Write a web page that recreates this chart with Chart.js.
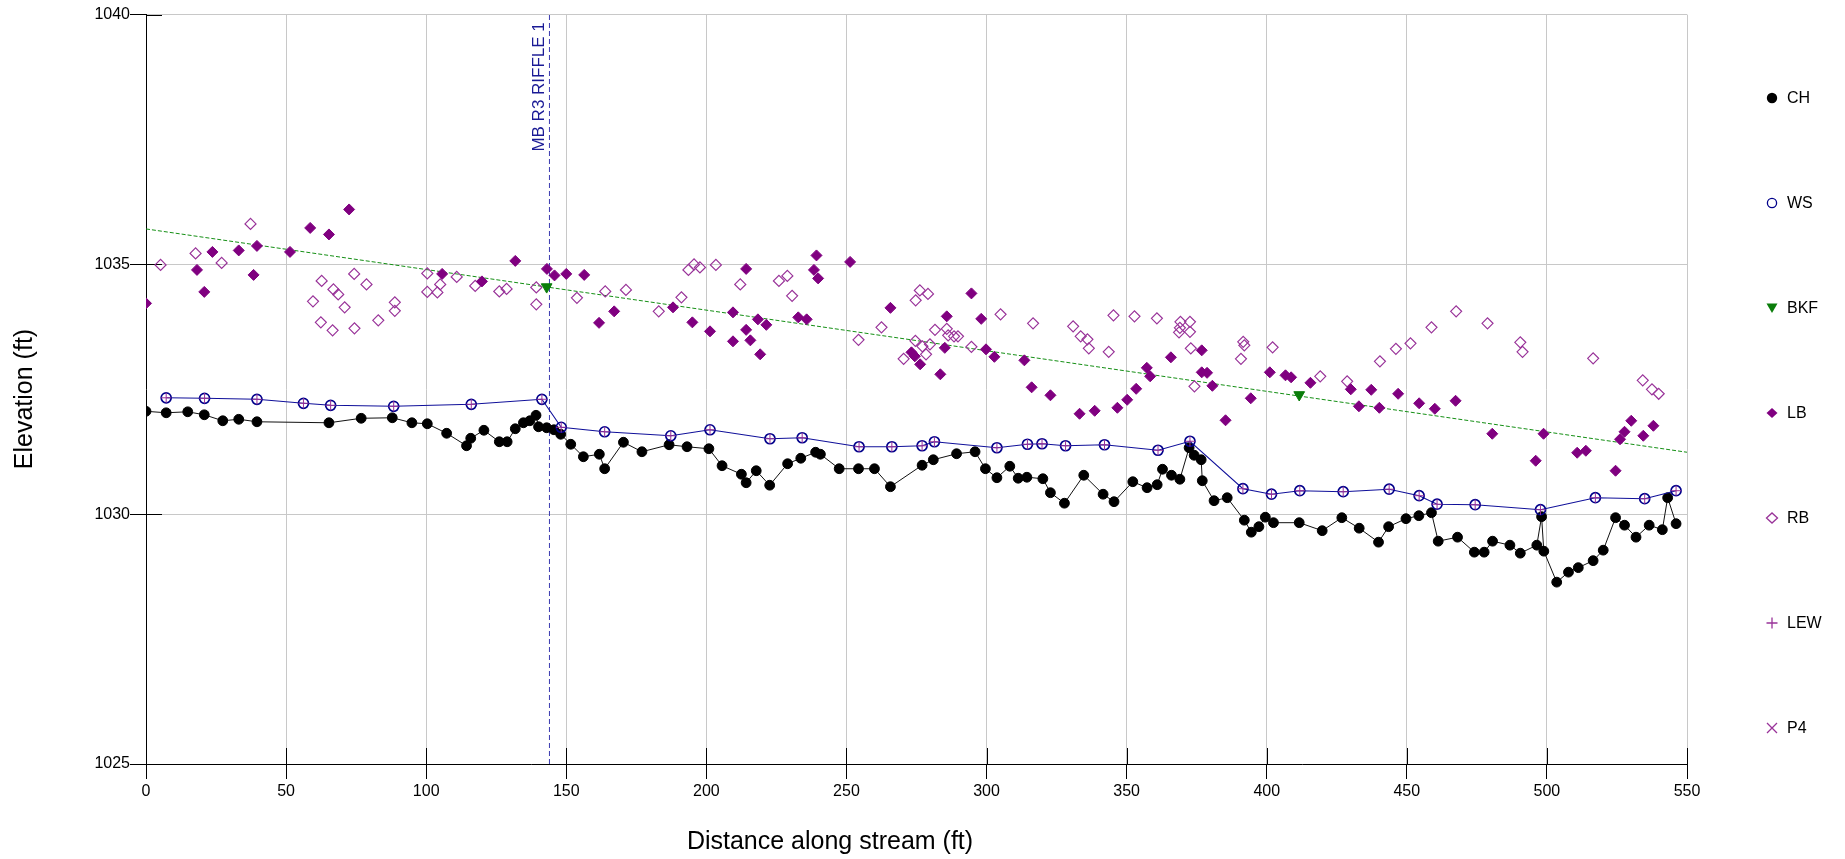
<!DOCTYPE html>
<html lang="en">
<head>
  <meta charset="UTF-8" />
  <title>Stream profile</title>
  <script src="https://cdn.jsdelivr.net/npm/chart.js"></script>
  <style>
    body { margin: 0; background: #fff; }
    #wrap { position: relative; width: 1845px; height: 859px; }
  </style>
</head>
<body>
  <div id="wrap"><canvas id="profile"></canvas></div>

  <script>
    // Channel bottom (CH)
    const chDist = [0, 7.2, 14.9, 20.8, 27.4, 33.1, 39.6, 65.3, 76.8, 87.9, 94.9, 100.4, 107.3, 114.4, 115.9, 120.6, 126.1, 128.9, 131.8, 134.7,
      137.0, 139.2, 140.1, 143.0, 145.6, 148.0, 151.6, 156.1, 161.8, 163.7, 170.4, 177.0, 186.7, 193.1, 200.9, 205.6, 212.5, 214.2, 217.8, 222.6,
      229.0, 233.7, 239.0, 240.7, 247.4, 254.3, 260.0, 265.7, 277.0, 281.0, 289.3, 295.9, 299.6, 303.7, 308.3, 311.3, 314.4, 320.1, 322.8, 327.8,
      334.7, 341.6, 345.5, 352.2, 357.3, 360.9, 362.8, 366.0, 369.0, 372.3, 374.1, 376.6, 377.0, 381.2, 385.9, 392.0, 394.5, 397.2, 399.5, 402.4,
      411.6, 419.8, 426.8, 433.0, 439.9, 443.5, 449.7, 454.3, 458.8, 461.2, 468.1, 474.1, 477.6, 480.6, 486.8, 490.5, 496.4, 498.1, 498.9, 503.5,
      507.7, 511.2, 516.5, 520.1, 524.5, 527.7, 531.8, 536.5, 541.2, 543.1, 546.1];
    const chElev = [1032.06, 1032.03, 1032.05, 1031.99, 1031.87, 1031.90, 1031.85, 1031.83, 1031.92, 1031.93, 1031.83, 1031.81, 1031.62, 1031.37, 1031.52, 1031.68, 1031.45, 1031.45, 1031.71, 1031.83,
      1031.87, 1031.98, 1031.75, 1031.73, 1031.69, 1031.60, 1031.40, 1031.15, 1031.20, 1030.91, 1031.44, 1031.25, 1031.39, 1031.35, 1031.31, 1030.97, 1030.80, 1030.63, 1030.87, 1030.58,
      1031.01, 1031.12, 1031.24, 1031.20, 1030.91, 1030.91, 1030.91, 1030.55, 1030.98, 1031.09, 1031.21, 1031.25, 1030.91, 1030.73, 1030.96, 1030.72, 1030.74, 1030.71, 1030.43, 1030.22,
      1030.78, 1030.40, 1030.25, 1030.65, 1030.53, 1030.59, 1030.90, 1030.78, 1030.70, 1031.33, 1031.18, 1031.09, 1030.67, 1030.27, 1030.33, 1029.88, 1029.64, 1029.75, 1029.94, 1029.83,
      1029.83, 1029.67, 1029.93, 1029.72, 1029.44, 1029.75, 1029.91, 1029.97, 1030.03, 1029.46, 1029.54, 1029.24, 1029.24, 1029.46, 1029.38, 1029.22, 1029.38, 1029.95, 1029.26, 1028.64,
      1028.84, 1028.93, 1029.07, 1029.28, 1029.93, 1029.78, 1029.54, 1029.78, 1029.69, 1030.33, 1029.81];

    // Water surface (WS)
    const wsDist = [7.2, 20.9, 39.6, 56.2, 65.9, 88.4, 116.1, 141.3, 148.2, 163.7, 187.3, 201.3, 222.7, 234.2, 254.5, 266.2, 277.0, 281.4, 303.7, 314.6,
      319.8, 328.2, 342.1, 361.2, 372.6, 391.5, 401.7, 411.8, 427.3, 443.7, 454.4, 460.8, 474.4, 497.7, 517.3, 534.9, 546.1];
    const wsElev = [1032.33, 1032.32, 1032.30, 1032.22, 1032.18, 1032.16, 1032.20, 1032.30, 1031.74, 1031.65, 1031.57, 1031.69, 1031.51, 1031.53, 1031.35, 1031.35, 1031.37, 1031.45, 1031.33, 1031.40,
      1031.41, 1031.37, 1031.39, 1031.28, 1031.46, 1030.51, 1030.40, 1030.47, 1030.45, 1030.50, 1030.37, 1030.20, 1030.19, 1030.09, 1030.33, 1030.31, 1030.47];

    // Bankfull (BKF) points and the dashed bankfull line
    const bkfDist = [143.0, 411.6];
    const bkfElev = [1034.55, 1032.39];
    const bkfLineDist = [0, 550];
    const bkfLineElev = [1035.71, 1031.24];

    // Left bank (LB)
    const lbDist = [0, 18.2, 20.8, 23.7, 33.1, 38.4, 39.6, 51.4, 58.6, 65.3, 72.5, 105.7, 119.9, 131.8, 143.1, 145.8, 150.0, 156.4, 161.7, 167.1,
      188.1, 195.0, 201.3, 209.5, 209.5, 214.2, 214.2, 215.7, 218.4, 219.2, 221.4, 232.8, 235.8, 238.4, 239.3, 239.9, 251.3, 265.7, 273.2, 274.4,
      276.3, 283.5, 285.1, 285.8, 294.6, 298.1, 299.8, 302.8, 313.5, 316.1, 322.8, 333.2, 338.6, 346.7, 350.2, 353.4, 357.2, 358.4, 365.8, 376.8,
      376.8, 378.7, 380.6, 385.3, 394.3, 401.1, 406.7, 408.7, 415.6, 430.0, 432.9, 437.3, 440.2, 446.9, 454.4, 460.0, 467.4, 480.5, 496.0, 498.8,
      510.8, 513.9, 524.5, 526.1, 527.7, 530.1, 534.4, 538.0];
    const lbElev = [1034.22, 1034.89, 1034.45, 1035.25, 1035.28, 1034.79, 1035.37, 1035.25, 1035.73, 1035.60, 1036.10, 1034.81, 1034.66, 1035.07, 1034.91, 1034.78, 1034.81, 1034.79, 1033.83, 1034.06,
      1034.14, 1033.84, 1033.66, 1034.04, 1033.46, 1034.91, 1033.69, 1033.48, 1033.90, 1033.20, 1033.79, 1033.94, 1033.90, 1034.89, 1035.18, 1034.72, 1035.05, 1034.13, 1033.24, 1033.16,
      1033.00, 1032.80, 1033.33, 1033.96, 1034.42, 1033.91, 1033.30, 1033.15, 1033.08, 1032.54, 1032.38, 1032.01, 1032.07, 1032.13, 1032.29, 1032.51, 1032.93, 1032.76, 1033.14, 1033.28,
      1032.84, 1032.83, 1032.57, 1031.88, 1032.32, 1032.84, 1032.78, 1032.74, 1032.63, 1032.50, 1032.16, 1032.49, 1032.13, 1032.41, 1032.22, 1032.11, 1032.27, 1031.61, 1031.07, 1031.61,
      1031.23, 1031.27, 1030.87, 1031.50, 1031.65, 1031.87, 1031.57, 1031.77];

    // Right bank (RB)
    const rbDist = [5.2, 17.7, 27.0, 37.3, 59.6, 62.4, 62.7, 66.6, 66.9, 68.6, 70.9, 74.3, 74.4, 78.7, 82.9, 88.8, 88.8, 100.4, 100.4, 104.0,
      105.0, 110.9, 117.5, 126.1, 128.7, 139.3, 139.3, 153.8, 163.9, 171.3, 183.0, 191.1, 193.6, 195.6, 197.7, 203.4, 212.1, 225.9, 228.9, 230.6,
      254.3, 262.5, 270.4, 274.6, 274.7, 276.2, 277.1, 278.4, 279.1, 279.8, 281.6, 285.8, 286.3, 288.4, 289.8, 294.6, 305.0, 316.6, 330.9, 333.6,
      336.0, 336.5, 343.6, 345.3, 352.8, 360.8, 368.7, 369.0, 369.2, 372.6, 372.6, 372.9, 374.2, 390.8, 391.6, 392.0, 402.1, 419.1, 428.7, 440.4,
      446.1, 451.3, 458.8, 467.6, 478.8, 490.5, 491.3, 516.5, 534.2, 537.5, 539.9];
    const rbElev = [1034.99, 1035.22, 1035.03, 1035.81, 1034.26, 1033.84, 1034.67, 1033.68, 1034.50, 1034.40, 1034.14, 1034.81, 1033.72, 1034.60, 1033.88, 1034.24, 1034.07, 1034.82, 1034.45, 1034.44,
      1034.60, 1034.75, 1034.57, 1034.46, 1034.51, 1034.54, 1034.20, 1034.33, 1034.46, 1034.49, 1034.06, 1034.34, 1034.89, 1035.00, 1034.94, 1034.99, 1034.60, 1034.67, 1034.77, 1034.37,
      1033.49, 1033.74, 1033.11, 1033.47, 1034.28, 1034.48, 1033.36, 1033.20, 1034.41, 1033.40, 1033.69, 1033.71, 1033.58, 1033.56, 1033.56, 1033.35, 1034.00, 1033.82, 1033.76, 1033.56,
      1033.50, 1033.32, 1033.25, 1033.98, 1033.96, 1033.92, 1033.64, 1033.73, 1033.85, 1033.85, 1033.65, 1033.32, 1032.56, 1033.11, 1033.45, 1033.38, 1033.34, 1032.76, 1032.66, 1033.06,
      1033.31, 1033.42, 1033.74, 1034.06, 1033.82, 1033.44, 1033.25, 1033.12, 1032.68, 1032.50, 1032.41];

    // Edge of water (LEW) shot at the water surface stations
    const lewDist = wsDist;
    const lewElev = wsElev;

    // Riffle marker
    const riffleDist = 144.0;
    const riffleLabel = 'MB R3 RIFFLE 1';

    const xTicks = { min: 0, max: 550, step: 50 };
    const yTicks = { min: 1025, max: 1040, step: 5 };

    const FONT = "'Liberation Sans', Arial, sans-serif";
    const pts = (xs, ys) => xs.map((x, i) => ({ x: x, y: ys[i] }));

    // legend entries drawn on the right
    const legendItems = [
      { label: 'CH', shape: 'dot', color: '#000000' },
      { label: 'WS', shape: 'ring', color: '#00008b' },
      { label: 'BKF', shape: 'tri', color: '#0a7d0a' },
      { label: 'LB', shape: 'diamond', color: '#800080' },
      { label: 'RB', shape: 'odiamond', color: '#993399' },
      { label: 'LEW', shape: 'plus', color: '#993399' },
      { label: 'P4', shape: 'x', color: '#993399' }
    ];

    function marker(ctx, shape, x, y, c) {
      ctx.save();
      ctx.fillStyle = c; ctx.strokeStyle = c; ctx.lineWidth = 1.3;
      ctx.beginPath();
      if (shape === 'dot') { ctx.arc(x, y, 5.2, 0, Math.PI * 2); ctx.fill(); }
      else if (shape === 'ring') { ctx.arc(x, y, 4.6, 0, Math.PI * 2); ctx.stroke(); }
      else if (shape === 'tri') { ctx.moveTo(x - 5.5, y - 4.5); ctx.lineTo(x + 5.5, y - 4.5); ctx.lineTo(x, y + 5); ctx.closePath(); ctx.fill(); }
      else if (shape === 'diamond' || shape === 'odiamond') {
        ctx.moveTo(x - 5.5, y); ctx.lineTo(x, y - 5); ctx.lineTo(x + 5.5, y); ctx.lineTo(x, y + 5); ctx.closePath();
        shape === 'diamond' ? ctx.fill() : ctx.stroke();
      }
      else if (shape === 'plus') { ctx.moveTo(x - 5.5, y); ctx.lineTo(x + 5.5, y); ctx.moveTo(x, y - 5.5); ctx.lineTo(x, y + 5.5); ctx.stroke(); }
      else if (shape === 'x') { ctx.moveTo(x - 5, y - 5); ctx.lineTo(x + 5, y + 5); ctx.moveTo(x + 5, y - 5); ctx.lineTo(x - 5, y + 5); ctx.stroke(); }
      ctx.restore();
    }

    const extras = {
      id: 'extras',
      beforeDatasetsDraw(chart) {
        // ticks that cross into the plot area
        const { ctx, chartArea: a, scales } = chart;
        ctx.save();
        ctx.strokeStyle = '#000'; ctx.lineWidth = 1;
        ctx.beginPath();
        scales.x.ticks.forEach(t => {
          if (t.value === xTicks.min) return;
          const px = Math.round(scales.x.getPixelForValue(t.value)) + 0.5;
          ctx.moveTo(px, a.bottom); ctx.lineTo(px, a.bottom - 16);
        });
        scales.y.ticks.forEach(t => {
          if (t.value === yTicks.min) return;
          const py = Math.round(scales.y.getPixelForValue(t.value)) + 0.5;
          ctx.moveTo(a.left, py); ctx.lineTo(a.left + 16, py);
        });
        ctx.stroke();
        ctx.restore();
      },
      afterDraw(chart) {
        const { ctx, chartArea: a, scales } = chart;
        ctx.save();
        // axis titles
        ctx.fillStyle = '#000';
        ctx.font = '25px ' + FONT;
        ctx.textAlign = 'center'; ctx.textBaseline = 'middle';
        ctx.fillText('Distance along stream (ft)', 830, 842);
        ctx.save();
        ctx.translate(25, 399); ctx.rotate(-Math.PI / 2);
        ctx.fillText('Elevation (ft)', 0, 0);
        ctx.restore();

        // riffle label next to its line
        const rx = scales.x.getPixelForValue(riffleDist);
        ctx.save();
        ctx.translate(rx - 5, a.top + 137); ctx.rotate(-Math.PI / 2);
        ctx.fillStyle = '#1a1a95';
        ctx.font = '17px ' + FONT;
        ctx.textAlign = 'left'; ctx.textBaseline = 'alphabetic';
        ctx.fillText(riffleLabel, 0, 0);
        ctx.restore();

        // legend
        ctx.font = '16px ' + FONT;
        ctx.textAlign = 'left'; ctx.textBaseline = 'middle';
        legendItems.forEach((it, i) => {
          const y = 98 + i * 105;
          marker(ctx, it.shape, 1772, y, it.color);
          ctx.fillStyle = '#000';
          ctx.fillText(it.label, 1787, y + 1);
        });
        ctx.restore();
      }
    };

    new Chart(document.getElementById('profile'), {
      type: 'scatter',
      data: {
        datasets: [
          {
            label: 'LEW', data: pts(lewDist, lewElev), order: 0,
            pointStyle: 'cross', pointRadius: 5.2, borderColor: '#993399', backgroundColor: '#993399', pointBorderWidth: 1
          },
          {
            label: 'WS', data: pts(wsDist, wsElev), order: 1, showLine: true,
            borderColor: '#10109a', borderWidth: 1.1, pointStyle: 'circle', pointRadius: 5,
            pointBorderColor: '#00008b', pointBackgroundColor: 'rgba(255,255,255,0)', pointBorderWidth: 1.7
          },
          {
            label: 'CH', data: pts(chDist, chElev), order: 2, showLine: true,
            borderColor: '#111', borderWidth: 1, pointStyle: 'circle', pointRadius: 4.9,
            pointBackgroundColor: '#000', pointBorderColor: '#000', pointBorderWidth: 1
          },
          {
            label: 'LB', data: pts(lbDist, lbElev), order: 3,
            pointStyle: 'rectRot', pointRadius: 5.5, backgroundColor: '#800080', borderColor: '#800080', pointBorderWidth: 1
          },
          {
            label: 'RB', data: pts(rbDist, rbElev), order: 4,
            pointStyle: 'rectRot', pointRadius: 5.5, backgroundColor: 'rgba(255,255,255,0)', borderColor: '#993399', pointBorderWidth: 1.2
          },
          {
            label: 'BKF', data: pts(bkfDist, bkfElev), order: 5,
            pointStyle: 'triangle', rotation: 180, pointRadius: 6.2, backgroundColor: '#0a7d0a', borderColor: '#0a7d0a', pointBorderWidth: 1
          },
          {
            label: 'BKF line', data: pts(bkfLineDist, bkfLineElev), order: 6, showLine: true,
            borderColor: '#158f15', borderWidth: 1, borderDash: [4, 2], pointRadius: 0
          },
          {
            label: 'Riffle', data: pts([riffleDist, riffleDist], [yTicks.min, yTicks.max]), order: 7, showLine: true,
            borderColor: '#3b3bb0', borderWidth: 1, borderDash: [5, 3], pointRadius: 0
          },
          {
            label: 'P4', data: [], order: 8, pointStyle: 'crossRot', borderColor: '#993399'
          }
        ]
      },
      options: {
        responsive: true,
        maintainAspectRatio: false,
        animation: false,
        layout: { padding: { left: 0, right: 158, top: 14.6, bottom: 0 } },
        plugins: {
          legend: { display: false },
          tooltip: { enabled: false }
        },
        scales: {
          x: {
            type: 'linear', min: xTicks.min, max: xTicks.max,
            afterFit(s) { s.height = 95; },
            ticks: { stepSize: xTicks.step, padding: 3, color: '#000', font: { family: FONT, size: 16 } },
            grid: { color: '#c8c8c8', lineWidth: 1, tickColor: '#000', tickLength: 15 },
            border: { color: '#000', width: 1 }
          },
          y: {
            type: 'linear', min: yTicks.min, max: yTicks.max,
            afterFit(s) { s.width = 146; },
            ticks: { stepSize: yTicks.step, padding: 0, color: '#000', font: { family: FONT, size: 16 }, callback: v => String(v) },
            grid: { color: '#c8c8c8', lineWidth: 1, tickColor: '#000', tickLength: 16 },
            border: { color: '#000', width: 1 }
          }
        }
      },
      plugins: [extras]
    });
  </script>
</body>
</html>
